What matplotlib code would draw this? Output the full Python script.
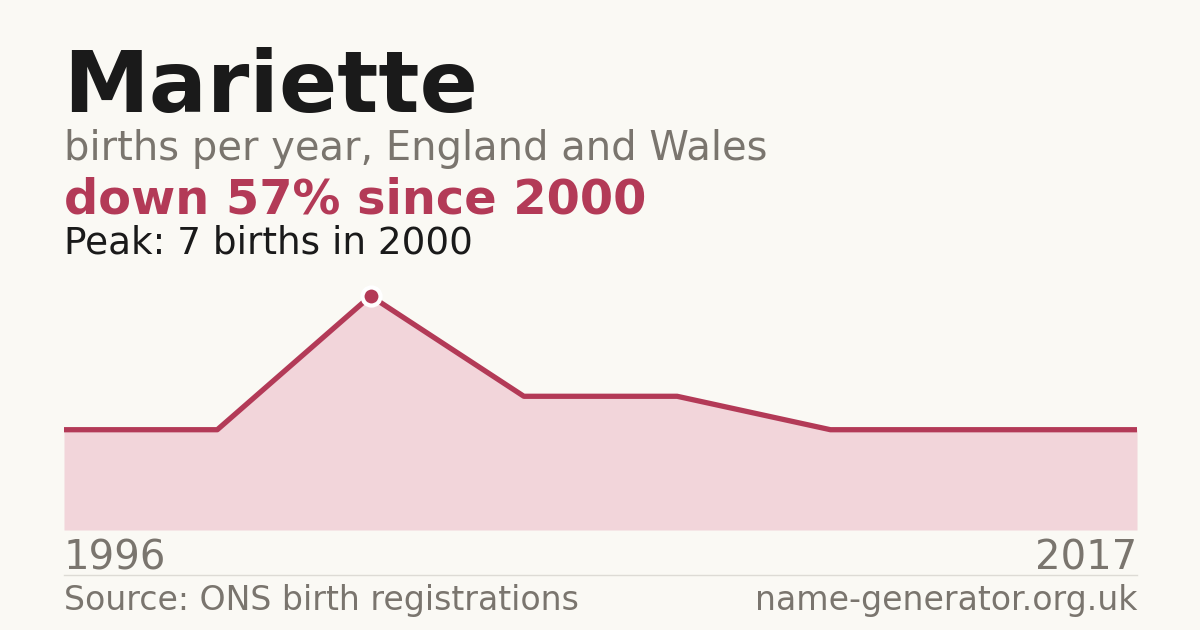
import matplotlib
matplotlib.use("Agg")
import matplotlib.pyplot as plt

## DATA ##
name = "Mariette"
years = [1996, 1998, 2000, 2004, 2008, 2011, 2014, 2017]
births = [3, 3, 7, 4, 4, 3, 3, 3]
peak_year = 2000
peak_val = 7

BG = "#faf9f4"
RED = "#b33a57"
FILL = "#f2d5da"
GREY = "#7a756e"

W, H = 1200, 630
fig = plt.figure(figsize=(12, 6.3), dpi=100, facecolor=BG)

def fx(px):
    return px / W

def fy(py):
    return 1 - py / H

# chart area
ax = fig.add_axes([fx(64), fy(530), fx(1137) - fx(64), fy(296) - fy(530)])
ax.set_facecolor(BG)
xs = list(range(len(years)))
ax.fill_between(xs, births, 0, color=FILL, lw=0)
ax.plot(xs, births, color=RED, lw=3.8, solid_capstyle="butt", clip_on=False)
pi = years.index(peak_year)
ax.plot(xs[pi], births[pi], "o", ms=13, mfc=RED, mec="white", mew=3, clip_on=False, zorder=5)
ax.set_xlim(0, len(years) - 1)
ax.set_ylim(0, peak_val)
ax.axis("off")

# text
fig.text(fx(63), fy(112), name, fontsize=62, fontweight="bold", color="#1a1a1a", va="baseline")
fig.text(fx(64), fy(160), "births per year, England and Wales", fontsize=28.8, color=GREY, va="baseline")
drop = round((peak_val - births[-1]) / peak_val * 100)
fig.text(fx(64), fy(214), "down %d%% since %d" % (drop, peak_year), fontsize=34.5, fontweight="bold", color=RED, va="baseline")
fig.text(fx(64), fy(254), "Peak: %d births in %d" % (peak_val, peak_year), fontsize=26.9, color="#1a1a1a", va="baseline")

fig.text(fx(64), fy(570), str(years[0]), fontsize=28.9, color=GREY, va="baseline")
fig.text(fx(1137), fy(570), str(years[-1]), fontsize=28.9, color=GREY, va="baseline", ha="right")

fig.add_artist(plt.Line2D([fx(64), fx(1137)], [fy(575), fy(575)], color="#dddbd5", lw=1))
fig.text(fx(64), fy(610), "Source: ONS birth registrations", fontsize=23.9, color=GREY, va="baseline")
fig.text(fx(1137), fy(610), "name-generator.org.uk", fontsize=23.9, color=GREY, va="baseline", ha="right")

fig.savefig("out.png", dpi=100, facecolor=BG)
